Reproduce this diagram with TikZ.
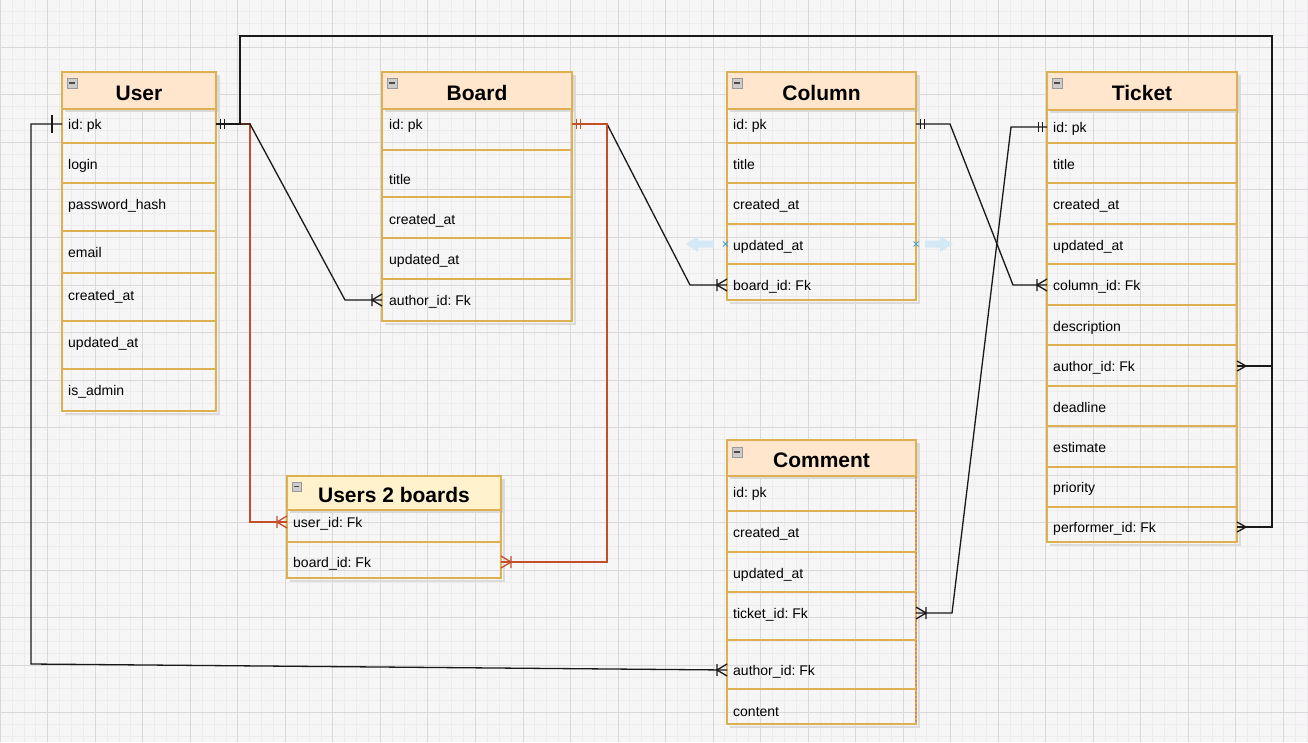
\documentclass[tikz,border=0pt]{standalone}
\usepackage{fontspec}
\newfontfamily\erfont{Liberation Sans}
\usepackage{tikz}
\usetikzlibrary{calc,fit}
\frenchspacing

\definecolor{canvas}{RGB}{247,246,247}
\definecolor{gridminor}{RGB}{237,235,237}
\definecolor{gridmajor}{RGB}{218,216,218}
\definecolor{erborder}{RGB}{222,176,82}
\definecolor{erpeach}{RGB}{255,230,204}
\definecolor{eryellow}{RGB}{255,242,204}
\definecolor{erred}{RGB}{196,78,42}
\definecolor{erink}{RGB}{25,25,25}
\definecolor{hoverblue}{RGB}{212,233,246}
\definecolor{hovermark}{RGB}{70,160,220}

\tikzset{
  erbox/.style={draw=erborder, line width=1.2pt, inner sep=0pt, outer sep=0pt},
  erhead/.style={erbox, fill=erpeach},
  ertitle/.style={font=\erfont\bfseries\fontsize{21}{25}\selectfont, inner sep=0pt, text height=15pt, text depth=0pt, yshift=-2pt},
  erfield/.style={anchor=west, font=\erfont\frenchspacing\fontsize{14}{16}\selectfont, inner sep=0pt, text height=10pt, text depth=0pt},
  erline/.style={draw=erborder, line width=1.2pt},
  ershade/.style={black!14, line width=2pt},
  conn/.style={erink, line width=1.3pt},
  redconn/.style={erred, line width=1.3pt}
}

\newcommand{\minusicon}[3][10]{\draw[gray!80, fill=gray!40] (#2,#3) rectangle ++(#1,#1);
  \draw[black!70, line width=1.3pt] (#2+2,#3+#1/2) -- ++(#1-4,0);}
\newcommand{\mandone}[3][conn]{\draw[#1, shift={(#2)}, xscale=#3] (4.5,-5) -- (4.5,5) (8.5,-5) -- (8.5,5);}
\newcommand{\onemany}[3][conn]{\draw[#1, shift={(#2)}, xscale=#3] (0,-6) -- (10,0) -- (0,6) (10,-6) -- (10,6);}
\newcommand{\manyend}[2]{\draw[conn, shift={(#1)}, xscale=#2] (0,-5) -- (9,0) -- (0,5);}
\newcommand{\oneend}[2]{\draw[conn, shift={(#1)}, xscale=#2] (10,-9) -- (10,9);}

\begin{document}
\begin{tikzpicture}[x=1pt,y=-1pt]
\useasboundingbox (0,0) rectangle (1308,742);
\fill[canvas] (0,0) rectangle (1308,742);
\foreach \i in {0,...,110} \draw[gridminor, line width=0.8pt] (0.2+\i*11.88,0) -- (0.2+\i*11.88,742);
\foreach \i in {1,...,63} \draw[gridminor, line width=0.8pt] (0,\i*11.88-0.2) -- (1308,\i*11.88-0.2);
\foreach \i in {0,...,27} \draw[gridmajor, line width=0.8pt] (0.2+\i*47.52,0) -- (0.2+\i*47.52,742);
\foreach \i in {1,...,15} \draw[gridmajor, line width=0.8pt] (0,\i*47.52-0.2) -- (1308,\i*47.52-0.2);

% User
\draw[ershade] (219,75) -- (219,414) -- (65,414);
\fill[black!15] (65,75) rectangle (219,112);
\node[erbox, fit={(62,72) (216,411)}] (user) {};
\node[erhead, fit={(62,72) (216,109)}] (user-head) {};
\node[ertitle] (user-title) at (user-head.center) {User};
\minusicon{67}{78}
\foreach \y in {143,183,231,273,321,369} \draw[erline] (62,\y) -- (216,\y);
\node[erfield] (user-id) at (68,124) {id: pk};
\node[erfield] (user-login) at (68,164) {login};
\node[erfield] (user-pass) at (68,204) {password\_hash};
\node[erfield] (user-email) at (68,252) {email};
\node[erfield] (user-created) at (68,295) {created\_at};
\node[erfield] (user-updated) at (68,342) {updated\_at};
\node[erfield] (user-admin) at (68,390) {is\_admin};

% Board
\draw[ershade] (575,75) -- (575,324) -- (385,324);
\fill[black!15] (385,75) rectangle (575,112);
\node[erbox, fit={(382,72) (572,321)}] (board) {};
\node[erhead, fit={(382,72) (572,109)}] (board-head) {};
\node[ertitle] (board-title) at (board-head.center) {Board};
\minusicon{387}{78}
\foreach \y in {150,197,238,279} \draw[erline] (382,\y) -- (572,\y);
\node[erfield] (board-id) at (389,124) {id: pk};
\node[erfield] (board-name) at (389,179) {title};
\node[erfield] (board-created) at (389,219) {created\_at};
\node[erfield] (board-updated) at (389,259) {updated\_at};
\node[erfield] (board-author) at (389,300) {author\_id: Fk};

% Column
\draw[ershade] (919,75) -- (919,303) -- (730,303);
\fill[black!15] (730,75) rectangle (919,112);
\node[erbox, fit={(727,72) (916,300)}] (column) {};
\node[erhead, fit={(727,72) (916,109)}] (column-head) {};
\node[ertitle] (column-title) at (column-head.center) {Column};
\minusicon{732}{78}
\foreach \y in {143,183,224,264} \draw[erline] (727,\y) -- (916,\y);
\node[erfield] (column-id) at (733,124) {id: pk};
\node[erfield] (column-name) at (733,164) {title};
\node[erfield] (column-created) at (733,204) {created\_at};
\node[erfield] (column-updated) at (733,245) {updated\_at};
\node[erfield] (column-board) at (733,285) {board\_id: Fk};

% Ticket
\draw[ershade] (1240,75) -- (1240,545) -- (1050,545);
\fill[black!15] (1050,75) rectangle (1240,113);
\node[erbox, fit={(1047,72) (1237,542)}] (ticket) {};
\node[erhead, fit={(1047,72) (1237,110)}] (ticket-head) {};
\node[ertitle] (ticket-title) at (ticket-head.center) {Ticket};
\minusicon{1052}{78}
\foreach \y in {143,183,224,264,305,345,386,426,467,507} \draw[erline] (1047,\y) -- (1237,\y);
\node[erfield] (ticket-id) at (1053,127) {id: pk};
\node[erfield] (ticket-name) at (1053,164) {title};
\node[erfield] (ticket-created) at (1053,204) {created\_at};
\node[erfield] (ticket-updated) at (1053,245) {updated\_at};
\node[erfield] (ticket-column) at (1053,285) {column\_id: Fk};
\node[erfield] (ticket-desc) at (1053,326) {description};
\node[erfield] (ticket-author) at (1053,366) {author\_id: Fk};
\node[erfield] (ticket-deadline) at (1053,407) {deadline};
\node[erfield] (ticket-estimate) at (1053,447) {estimate};
\node[erfield] (ticket-priority) at (1053,487) {priority};
\node[erfield] (ticket-performer) at (1053,527) {performer\_id: Fk};

% Comment
\draw[ershade] (919,443) -- (919,727) -- (730,727);
\fill[black!15] (730,443) rectangle (919,479);
\node[erbox, fit={(727,440) (916,724)}] (comment) {};
\draw[erred!70, line width=1.2pt, dash pattern=on 2pt off 2pt] (916,476) -- (916,724);
\node[erhead, fit={(727,440) (916,476)}] (comment-head) {};
\node[ertitle] (comment-title) at (comment-head.center) {Comment};
\minusicon{732}{447}
\foreach \y in {511,552,592,640,689} \draw[erline] (727,\y) -- (916,\y);
\node[erfield] (comment-id) at (733,492) {id: pk};
\node[erfield] (comment-created) at (733,532) {created\_at};
\node[erfield] (comment-updated) at (733,573) {updated\_at};
\node[erfield] (comment-ticket) at (733,613) {ticket\_id: Fk};
\node[erfield] (comment-author) at (733,670) {author\_id: Fk};
\node[erfield] (comment-content) at (733,711) {content};

% Users 2 boards
\draw[ershade] (504,479) -- (504,581) -- (290,581);
\fill[black!15] (290,479) rectangle (504,513);
\node[erbox, fit={(287,476) (501,578)}] (u2b) {};
\node[erbox, fill=eryellow, fit={(287,476) (501,510)}] (u2b-head) {};
\node[ertitle] (u2b-title) at (u2b-head.center) {Users 2 boards};
\minusicon[9]{292}{482}
\draw[erline] (287,542) -- (501,542);
\node[erfield] (u2b-user) at (293,522) {user\_id: Fk};
\node[erfield] (u2b-board) at (293,562) {board\_id: Fk};

% hover arrows
\fill[hoverblue] (686,244) -- (698,236) -- (698,240.5) -- (714,240.5) -- (714,247.5) -- (698,247.5) -- (698,252) -- cycle;
\fill[hoverblue] (925,240.5) -- (940,240.5) -- (940,236) -- (953,244) -- (940,252) -- (940,247.5) -- (925,247.5) -- cycle;
\draw[hovermark, line width=0.9pt] (723,241.5) -- ++(5,5) (723,246.5) -- ++(5,-5);
\draw[hovermark, line width=0.9pt] (913.5,241.5) -- ++(5,5) (913.5,246.5) -- ++(5,-5);

% relations
\coordinate (bend) at (1272,36);
\draw[redconn] (user.east |- user-id) -- ++(34,0) |- (u2b.west |- u2b-user);
\draw[conn] (user.east |- user-id) -- ++(34,0) -- ($(board.west |- board-author)+(-37,0)$) -- (board.west |- board-author);
\draw[conn] (user.east |- user-id) -- ++(24,0) |- (bend) |- (ticket.east |- ticket-author);
\draw[conn] (bend) |- (ticket.east |- ticket-performer);
\draw[conn] (user.west |- user-id) -- ++(-31,0) -- ++(0,540) -- (comment.west |- comment-author);
\draw[conn] (board.east |- board-id) -- ++(35,0) -- ($(column.west |- column-board)+(-37,0)$) -- (column.west |- column-board);
\draw[redconn] (board.east |- board-id) -- ++(35,0) |- (u2b.east |- u2b-board);
\draw[conn] (column.east |- column-id) -- ++(34,0) -- ($(ticket.west |- ticket-column)+(-34,0)$) -- (ticket.west |- ticket-column);
\draw[conn] (ticket.west |- ticket-id) -- ++(-36,0) -- ($(comment.east |- comment-ticket)+(36,0)$) -- (comment.east |- comment-ticket);

\mandone{user.east |- user-id}{1}
\oneend{user.west |- user-id}{-1}
\onemany{board.west |- board-author}{-1}
\onemany[redconn]{u2b.west |- u2b-user}{-1}
\mandone[redconn]{board.east |- board-id}{1}
\onemany[redconn]{u2b.east |- u2b-board}{1}
\onemany{column.west |- column-board}{-1}
\mandone{column.east |- column-id}{1}
\onemany{ticket.west |- ticket-column}{-1}
\mandone{ticket.west |- ticket-id}{-1}
\onemany{comment.east |- comment-ticket}{1}
\onemany{comment.west |- comment-author}{-1}
\manyend{ticket.east |- ticket-author}{1}
\manyend{ticket.east |- ticket-performer}{1}
\end{tikzpicture}
\end{document}
